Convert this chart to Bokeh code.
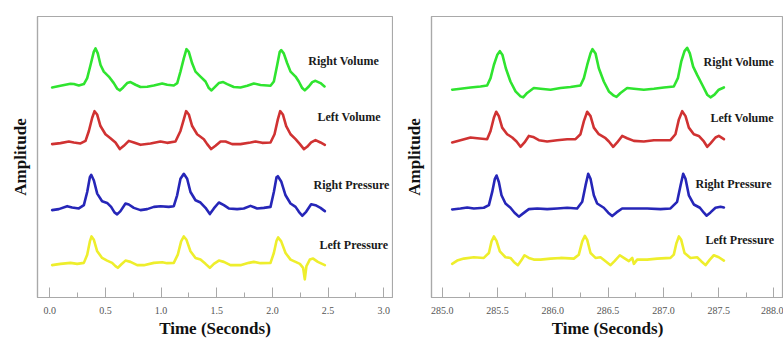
from bokeh.plotting import figure
from bokeh.layouts import row
from bokeh.models import Range1d, SingleIntervalTicker, FixedTicker, NumeralTickFormatter
from bokeh.core.properties import value
from bokeh.embed import file_html
from bokeh.resources import INLINE

# ---------------- data (time in s, amplitude in arbitrary units) ----------------
series_names = ["Right Volume", "Left Volume", "Right Pressure", "Left Pressure"]
series_colors = ["#2fe42f", "#d03232", "#2626b8", "#eeee2c"]
series_offsets = [212.0, 155.0, 88.3, 32.7]

# Left panel (0 - 2.5 s)
lg_t = [0.021, 0.096, 0.186, 0.216, 0.261, 0.306, 0.336, 0.366, 0.395, 0.411, 0.431, 0.456, 0.485, 0.530,
        0.575, 0.606, 0.629, 0.659, 0.695, 0.725, 0.770, 0.815, 0.875, 0.934, 1.010, 1.055, 1.114, 1.145,
        1.174, 1.204, 1.228, 1.249, 1.279, 1.309, 1.354, 1.399, 1.429, 1.453, 1.480, 1.518, 1.558, 1.594,
        1.653, 1.713, 1.774, 1.833, 1.893, 1.983, 2.013, 2.043, 2.066, 2.079, 2.102, 2.133, 2.163, 2.208,
        2.237, 2.268, 2.291, 2.327, 2.358, 2.387, 2.432, 2.468]
lg_a = [0.3, 2.0, 4.0, 3.7, 2.3, 3.7, 9.7, 23.0, 36.3, 39.7, 34.7, 23.0, 16.3, 11.3,
        4.7, -1.0, -2.7, 0.3, 4.7, 5.7, 3.0, 0.7, 1.0, 2.3, 4.3, 3.0, 2.3, 4.7,
        16.3, 29.7, 39.0, 36.3, 24.7, 16.3, 11.3, 6.3, -0.3, -2.7, 0.3, 4.7, 5.7, 3.7,
        0.7, 0.3, 2.0, 4.3, 2.7, 2.0, 6.3, 23.0, 36.3, 38.0, 34.7, 24.7, 16.3, 11.3,
        6.3, -0.3, -2.7, 1.3, 5.7, 7.0, 4.7, 1.3]

lr_t = [0.021, 0.096, 0.171, 0.216, 0.276, 0.321, 0.351, 0.381, 0.402, 0.425, 0.455, 0.500, 0.545, 0.590,
        0.629, 0.665, 0.710, 0.755, 0.815, 0.905, 0.994, 1.054, 1.129, 1.174, 1.204, 1.225, 1.249, 1.279,
        1.324, 1.384, 1.414, 1.450, 1.489, 1.534, 1.579, 1.638, 1.713, 1.803, 1.848, 1.908, 1.983, 2.019,
        2.049, 2.070, 2.094, 2.124, 2.163, 2.208, 2.247, 2.283, 2.312, 2.348, 2.387, 2.432, 2.471]
lr_a = [0.0, 1.0, 2.7, 1.7, 0.7, 3.3, 13.3, 26.7, 33.3, 30.0, 18.3, 10.0, 6.0, 1.7,
        -5.0, -1.7, 3.3, 1.7, -0.7, 0.7, 2.7, 1.3, 2.7, 13.3, 25.0, 33.3, 30.0, 18.3,
        10.0, 5.0, 0.0, -5.0, -1.7, 2.7, 2.7, 0.0, 0.0, 1.7, 2.7, 1.3, 1.7, 10.0,
        25.0, 33.3, 30.0, 18.3, 10.0, 5.0, 0.0, -5.0, -2.7, 1.7, 4.0, 1.7, -0.7]

lb_t = [0.021, 0.081, 0.156, 0.201, 0.261, 0.306, 0.336, 0.360, 0.372, 0.396, 0.426, 0.470, 0.515, 0.551,
        0.581, 0.605, 0.635, 0.680, 0.710, 0.755, 0.815, 0.875, 0.935, 0.995, 1.069, 1.114, 1.144, 1.174,
        1.204, 1.234, 1.264, 1.309, 1.354, 1.399, 1.438, 1.474, 1.519, 1.564, 1.608, 1.683, 1.743, 1.803,
        1.863, 1.923, 1.983, 2.013, 2.037, 2.049, 2.079, 2.118, 2.163, 2.208, 2.238, 2.268, 2.303, 2.348,
        2.387, 2.432, 2.471]
lb_a = [0.0, 1.0, 4.0, 2.7, 1.7, 5.0, 18.3, 33.3, 35.7, 30.0, 16.7, 9.0, 7.3, 3.3,
        -2.3, -4.3, -1.0, 6.7, 5.7, 2.3, 0.0, 1.0, 3.3, 4.0, 3.3, 4.0, 15.0, 31.7,
        36.7, 31.7, 18.3, 10.0, 7.7, 2.3, -4.0, 1.7, 7.7, 5.0, 1.7, 1.0, 1.7, 4.3,
        1.7, 2.3, 3.3, 18.3, 33.3, 34.3, 29.0, 15.0, 6.7, 3.3, -1.7, -5.7, -1.7, 6.0,
        5.0, 2.3, -1.0]

ly_t = [0.021, 0.096, 0.186, 0.246, 0.306, 0.336, 0.360, 0.375, 0.396, 0.426, 0.470, 0.515, 0.560, 0.590,
        0.611, 0.641, 0.680, 0.725, 0.785, 0.845, 0.935, 1.010, 1.054, 1.114, 1.150, 1.180, 1.204, 1.228,
        1.264, 1.309, 1.354, 1.399, 1.438, 1.474, 1.519, 1.564, 1.623, 1.713, 1.788, 1.833, 1.893, 1.983,
        2.013, 2.037, 2.052, 2.079, 2.118, 2.163, 2.208, 2.247, 2.276, 2.291, 2.306, 2.336, 2.366, 2.408,
        2.471]
ly_a = [0.0, 1.3, 2.3, 1.3, 2.3, 10.6, 24.0, 29.0, 25.6, 14.0, 7.3, 4.6, 2.3, -1.0,
        -2.7, 0.6, 4.6, 3.3, 0.0, 0.0, 2.3, 3.0, 2.0, 2.3, 10.6, 24.0, 29.0, 25.6,
        14.0, 7.3, 5.6, 1.3, -2.7, 1.3, 4.6, 3.3, 0.0, 0.0, 2.3, 3.3, 2.0, 2.3,
        12.3, 24.6, 28.0, 24.0, 12.3, 5.6, 3.3, 1.3, -2.7, -14.4, -1.0, 5.6, 6.6, 3.3,
        0.0]

# Right panel (285 - 287.5 s)
rg_t = [285.090, 285.165, 285.256, 285.346, 285.406, 285.437, 285.467, 285.497, 285.521, 285.545, 285.575,
        285.617, 285.663, 285.708, 285.732, 285.768, 285.828, 285.889, 285.979, 286.070, 286.160, 286.250,
        286.281, 286.311, 286.341, 286.359, 286.386, 286.416, 286.461, 286.507, 286.552, 286.576, 286.612,
        286.672, 286.733, 286.823, 286.914, 287.004, 287.094, 287.131, 287.161, 287.191, 287.215, 287.239,
        287.269, 287.305, 287.351, 287.396, 287.426, 287.462, 287.501, 287.547]
rg_a = [-2.0, -1.0, 0.3, 1.3, 2.3, 9.7, 23.0, 33.0, 37.0, 33.0, 19.7,
        6.3, -3.7, -8.7, -9.7, -5.3, -0.3, -1.0, -2.0, -0.3, 0.7, 2.3,
        9.7, 23.0, 34.7, 39.0, 34.7, 19.7, 6.3, -3.7, -8.0, -9.3, -5.3,
        -0.3, -1.0, -2.0, -1.0, 0.3, 1.3, 9.7, 26.3, 37.0, 40.3, 34.7,
        21.3, 13.0, 3.0, -7.0, -9.7, -7.0, -2.0, 0.3]

rr_t = [285.090, 285.165, 285.256, 285.316, 285.406, 285.437, 285.467, 285.488, 285.512, 285.542, 285.587,
        285.633, 285.672, 285.708, 285.744, 285.783, 285.822, 285.874, 285.949, 286.039, 286.130, 286.205,
        286.250, 286.281, 286.311, 286.341, 286.371, 286.416, 286.477, 286.507, 286.546, 286.582, 286.627,
        286.672, 286.733, 286.823, 286.914, 286.974, 287.064, 287.109, 287.140, 287.170, 287.200, 287.230,
        287.275, 287.320, 287.366, 287.396, 287.426, 287.471, 287.501, 287.547]
rr_a = [1.7, 4.0, 6.7, 6.0, 5.0, 13.3, 26.7, 32.7, 28.3, 16.7, 10.0,
        6.7, 2.7, -2.7, 1.7, 8.3, 7.3, 4.0, 2.7, 4.0, 5.0, 5.0,
        10.0, 23.3, 32.7, 28.3, 16.7, 10.0, 6.0, 2.7, -2.7, 1.7, 8.3,
        6.0, 3.3, 2.7, 4.0, 4.0, 4.0, 10.0, 25.0, 33.3, 28.3, 16.7,
        10.0, 8.3, 2.7, -2.7, 0.7, 6.7, 8.3, 5.0]

rb_t = [285.090, 285.165, 285.226, 285.286, 285.376, 285.422, 285.452, 285.476, 285.491, 285.512, 285.536,
        285.572, 285.617, 285.654, 285.693, 285.732, 285.783, 285.859, 285.949, 286.039, 286.130, 286.220,
        286.266, 286.296, 286.320, 286.341, 286.371, 286.401, 286.461, 286.501, 286.537, 286.576, 286.627,
        286.733, 286.853, 286.974, 287.064, 287.124, 287.155, 287.179, 287.200, 287.230, 287.275, 287.330,
        287.366, 287.390, 287.426, 287.471, 287.517, 287.547]
rb_a = [0.7, 1.7, 2.7, 1.7, 2.4, 5.0, 18.4, 31.7, 35.0, 28.4, 15.0,
        6.7, 2.4, -2.6, -6.6, -3.3, 1.0, 1.7, 1.0, 1.7, 2.4, 1.7,
        8.4, 25.0, 36.7, 31.7, 15.0, 6.7, 2.4, -2.6, -6.0, -2.3, 1.7,
        1.7, 1.7, 1.0, 1.7, 8.4, 25.0, 36.7, 31.7, 15.0, 5.7, 2.4,
        -2.6, -5.6, -2.3, 2.4, 3.4, 2.7]

ry_t = [285.090, 285.135, 285.195, 285.286, 285.376, 285.422, 285.446, 285.467, 285.491, 285.521, 285.572,
        285.617, 285.648, 285.684, 285.714, 285.744, 285.783, 285.828, 285.889, 285.979, 286.070, 286.190,
        286.235, 286.266, 286.290, 286.311, 286.341, 286.386, 286.431, 286.477, 286.522, 286.558, 286.606,
        286.642, 286.688, 286.718, 286.733, 286.763, 286.853, 286.944, 287.064, 287.094, 287.118, 287.140,
        287.161, 287.191, 287.245, 287.305, 287.342, 287.381, 287.420, 287.456, 287.501, 287.547]
ry_a = [1.3, 4.6, 6.6, 8.0, 7.3, 12.3, 24.0, 29.0, 24.6, 14.0, 8.0,
        7.3, 3.3, 0.0, 4.6, 10.0, 7.3, 5.6, 5.6, 6.6, 7.3, 6.6,
        10.6, 24.0, 29.6, 25.6, 12.3, 7.3, 8.0, 4.0, 0.0, 4.0, 10.0,
        7.3, 4.0, 7.3, 1.3, 5.6, 5.6, 6.6, 7.3, 10.6, 22.3, 29.0,
        25.6, 12.3, 7.3, 8.0, 4.0, 0.0, 5.6, 10.0, 8.0, 4.6]

x_tick_interval = 0.5

left_series = [(lg_t, lg_a), (lr_t, lr_a), (lb_t, lb_a), (ly_t, ly_a)]
right_series = [(rg_t, rg_a), (rr_t, rr_a), (rb_t, rb_a), (ry_t, ry_a)]

# label anchor positions (layout, in data coordinates)
left_label_pos = [(2.323, 239), (2.405, 182), (2.369, 114), (2.423, 53)]
right_label_pos = [(287.363, 238), (287.426, 181), (287.291, 115), (287.381, 58)]

SERIF = "Liberation Serif"
GRAY = "#a9a9a9"


def make_panel(series, label_pos, x_start, x_end, width, border_left, border_right):
    p = figure(width=width, height=340, x_range=Range1d(x_start, x_end), y_range=Range1d(0, 284),
               output_backend="svg", toolbar_location=None,
               min_border_top=16, min_border_left=border_left, min_border_right=border_right,
               min_border_bottom=40)
    p.grid.visible = False
    p.outline_line_color = GRAY
    p.outline_line_width = 1.2
    p.background_fill_color = "white"

    # x axis
    xa = p.xaxis[0]
    xa.ticker = SingleIntervalTicker(interval=x_tick_interval, num_minor_ticks=2)
    xa.formatter = NumeralTickFormatter(format="0.0")
    xa.axis_line_color = GRAY
    xa.axis_line_width = 1.2
    xa.major_tick_in = 10
    xa.major_tick_out = 0
    xa.minor_tick_in = 5
    xa.minor_tick_out = 0
    xa.major_tick_line_color = GRAY
    xa.minor_tick_line_color = GRAY
    xa.major_label_text_font = SERIF
    xa.major_label_text_font_size = "10px"
    xa.major_label_text_color = "#555555"
    xa.major_label_standoff = 9
    xa.axis_label = "Time (Seconds)"
    xa.axis_label_text_font = SERIF
    xa.axis_label_text_font_style = "bold"
    xa.axis_label_text_font_size = "17px"
    xa.axis_label_text_color = "#111111"
    xa.axis_label_standoff = 2

    # y axis
    ya = p.yaxis[0]
    ya.ticker = FixedTicker(ticks=[])
    ya.axis_line_color = GRAY
    ya.axis_line_width = 1.2
    ya.major_tick_out = 0
    ya.minor_tick_out = 0
    ya.major_label_text_font_size = "0px"
    ya.axis_label = "Amplitude"
    ya.axis_label_text_font = SERIF
    ya.axis_label_text_font_style = "bold"
    ya.axis_label_text_font_size = "17px"
    ya.axis_label_text_color = "#111111"
    ya.axis_label_standoff = 8

    for (t, a), color, off, name, (lx, ly) in zip(series, series_colors, series_offsets,
                                                    series_names, label_pos):
        p.line([ti for ti in t], [ai + off for ai in a], line_color=color, line_width=2.6,
               line_join="round", line_cap="round")
        p.text(x=[lx], y=[ly], text=[name], text_font=value(SERIF), text_font_style="bold",
               text_font_size="12px", text_color="#1a1a1a", text_baseline="middle", text_align="left")
    return p


p_left = make_panel(left_series, left_label_pos, -0.1105, 3.079, 393, 37, 1)
p_right = make_panel(right_series, right_label_pos, 284.903, 288.086, 390, 38, 0)

layout = row(p_left, p_right, spacing=0)

open("out.html", "w").write(file_html(layout, INLINE))
